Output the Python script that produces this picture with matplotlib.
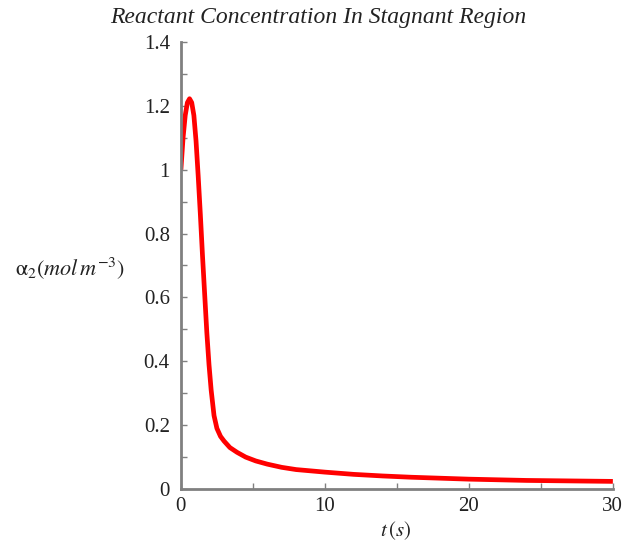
import matplotlib
matplotlib.use("Agg")
import matplotlib.pyplot as plt

plt.rcParams["font.family"] = "Liberation Serif"
plt.rcParams["mathtext.fontset"] = "stix"

# values
t_values = [0, 0.15, 0.3, 0.45, 0.6, 0.75, 0.9, 1.05, 1.2, 1.35, 1.5, 1.65, 1.8,
            1.95, 2.1, 2.3, 2.5, 2.75, 3.0, 3.4, 3.9, 4.5, 5.2, 6.0, 7.0, 8.0,
            9.0, 10, 12, 14, 16, 18, 20, 22, 24, 26, 28, 30]
alpha2_values = [1.0, 1.10, 1.17, 1.21, 1.222, 1.21, 1.17, 1.09, 0.98, 0.86, 0.73,
                 0.61, 0.49, 0.39, 0.31, 0.23, 0.19, 0.165, 0.15, 0.13, 0.115, 0.10,
                 0.088, 0.078, 0.068, 0.061, 0.057, 0.053, 0.046, 0.041, 0.037,
                 0.034, 0.031, 0.029, 0.027, 0.026, 0.025, 0.024]

x_ticks = [0, 10, 20, 30]
y_ticks = [0, 0.2, 0.4, 0.6, 0.8, 1.0, 1.2, 1.4]
y_tick_labels = ["0", "0.2", "0.4", "0.6", "0.8", "1", "1.2", "1.4"]

fig = plt.figure(figsize=(6.26, 5.44), dpi=100)
ax = fig.add_axes([0.289, 0.101, 0.690, 0.822])

ax.plot(t_values, alpha2_values, color="red", linewidth=3.4, solid_capstyle="butt")

ax.set_xlim(0, 30)
ax.set_ylim(0, 1.4)
ax.set_xticks(x_ticks)
ax.set_xticks([5, 15, 25], minor=True)
ax.set_yticks(y_ticks)
ax.set_yticklabels(y_tick_labels)
ax.set_yticks([0.1, 0.3, 0.5, 0.7, 0.9, 1.1, 1.3], minor=True)

for side in ["top", "right"]:
    ax.spines[side].set_visible(False)
for side in ["left", "bottom"]:
    ax.spines[side].set_color("#808080")
    ax.spines[side].set_linewidth(2)

ax.tick_params(which="both", direction="in", color="#808080", width=1, length=4,
               labelsize=15, labelcolor="#222222")
ax.tick_params(axis="y", pad=8)
ax.tick_params(axis="x", pad=6)

fig.text(0.509, 0.967, "Reactant Concentration In Stagnant Region",
         ha="center", va="center", fontsize=17, style="italic", color="#222222")
fig.text(0.024, 0.507, r"$\mathrm{α}_2\left(mol\,m^{-3}\right)$",
         ha="left", va="center", fontsize=16, color="#222222")
fig.text(0.632, 0.024, r"$t\,(s)$", ha="center", va="center", fontsize=15,
         color="#222222")

fig.savefig("out.png", dpi=100)
